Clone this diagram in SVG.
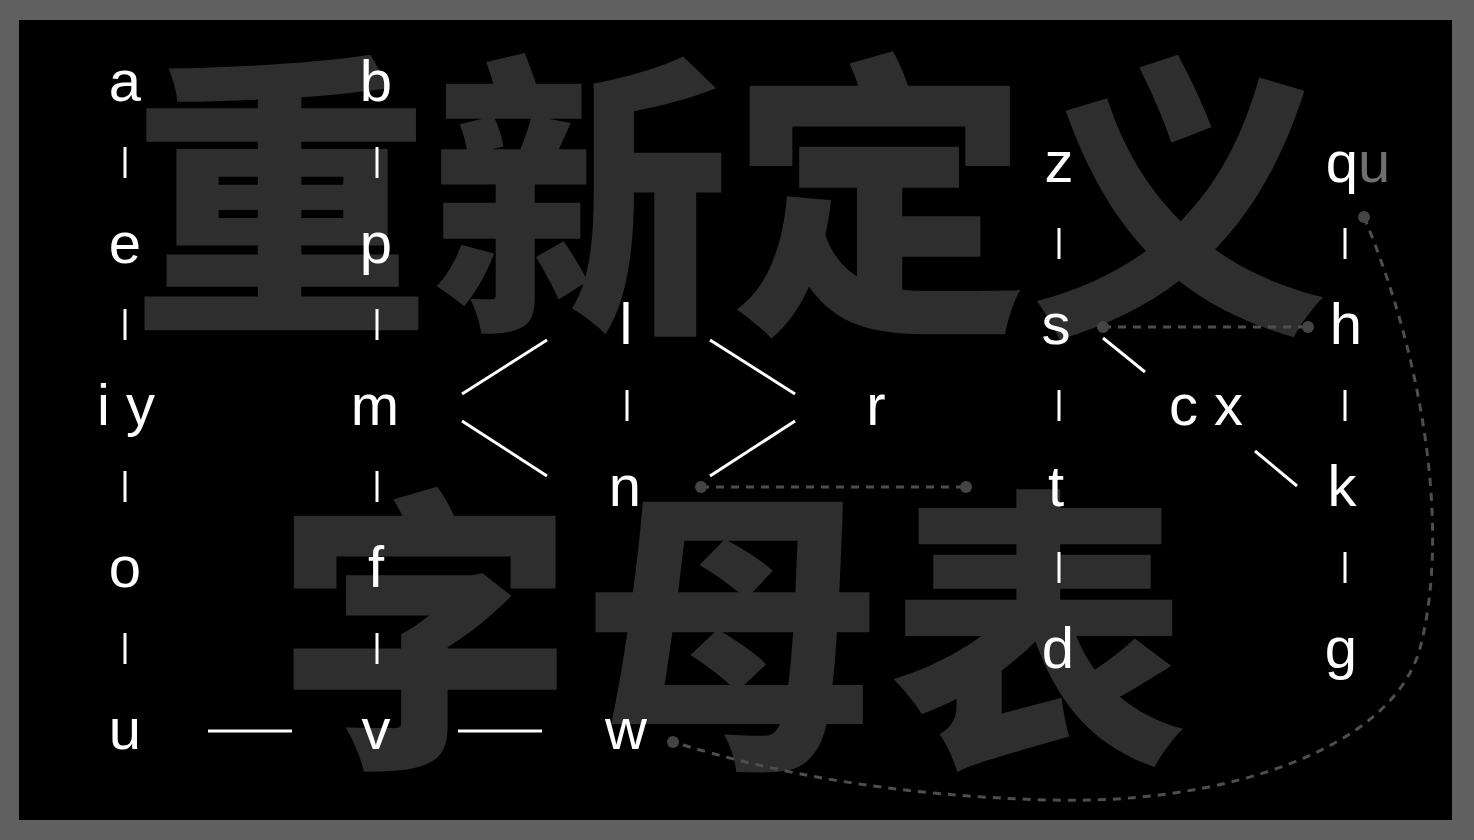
<svg xmlns="http://www.w3.org/2000/svg" width="1474" height="840" viewBox="0 0 1474 840">
<defs>
<style>
.bg{font-family:"Noto Sans CJK SC","Noto Sans CJK JP",sans-serif;font-weight:900;font-size:298px;fill:#2e2e2e}
.lt{font-family:"Liberation Sans",Arial,sans-serif;font-size:58px;fill:#ffffff;text-anchor:middle}
.ln{stroke:#ffffff;stroke-width:3;fill:none}
.ds{stroke:#4e4e4e;stroke-width:3;fill:none;stroke-dasharray:8 7}
.dot{fill:#444444}
</style>
</defs>
<rect x="0" y="0" width="1474" height="840" fill="#606060"/>
<rect x="19" y="20" width="1433" height="800" fill="#000000"/>
<g id="background-title">
<text class="bg" x="132" y="310" textLength="1196" lengthAdjust="spacing">重新定义</text>
<text class="bg" x="276" y="744" textLength="912" lengthAdjust="spacing">字母表</text>
</g>
<g id="connectors">
<g id="solid">
<line class="ln" x1="125" y1="147" x2="125" y2="178"/>
<line class="ln" x1="125" y1="309" x2="125" y2="340"/>
<line class="ln" x1="125" y1="471" x2="125" y2="502"/>
<line class="ln" x1="125" y1="633" x2="125" y2="664"/>
<line class="ln" x1="377" y1="147" x2="377" y2="178"/>
<line class="ln" x1="377" y1="309" x2="377" y2="340"/>
<line class="ln" x1="377" y1="471" x2="377" y2="502"/>
<line class="ln" x1="377" y1="633" x2="377" y2="664"/>
<line class="ln" x1="627" y1="390" x2="627" y2="421"/>
<line class="ln" x1="1059" y1="228" x2="1059" y2="259"/>
<line class="ln" x1="1059" y1="390" x2="1059" y2="421"/>
<line class="ln" x1="1059" y1="552" x2="1059" y2="583"/>
<line class="ln" x1="1345" y1="228" x2="1345" y2="259"/>
<line class="ln" x1="1345" y1="390" x2="1345" y2="421"/>
<line class="ln" x1="1345" y1="552" x2="1345" y2="583"/>
<line class="ln" x1="462" y1="394" x2="547" y2="340"/>
<line class="ln" x1="462" y1="421" x2="547" y2="476"/>
<line class="ln" x1="710" y1="340" x2="795" y2="394"/>
<line class="ln" x1="710" y1="476" x2="795" y2="421"/>
<line class="ln" x1="1103" y1="338" x2="1145" y2="372"/>
<line class="ln" x1="1255" y1="451" x2="1297" y2="486"/>
<line class="ln" x1="208" y1="731" x2="292" y2="731"/>
<line class="ln" x1="458" y1="731" x2="542" y2="731"/>
</g>
<g id="dashed">
<line class="ds" x1="1103" y1="327" x2="1308" y2="327"/>
<line class="ds" x1="701" y1="487" x2="966" y2="487"/>
<path class="ds" d="M1364 217 C1420 350 1450 520 1422 640 C1400 750 1220 805 1050 800 C900 796 780 775 673 742"/>
<circle class="dot" cx="1103" cy="327" r="6"/>
<circle class="dot" cx="1308" cy="327" r="6"/>
<circle class="dot" cx="701" cy="487" r="6"/>
<circle class="dot" cx="966" cy="487" r="6"/>
<circle class="dot" cx="1364" cy="217" r="6"/>
<circle class="dot" cx="673" cy="742" r="6"/>
</g>
</g>
<g id="node-a"><text class="lt" x="125" y="101">a</text></g>
<g id="node-b"><text class="lt" x="376" y="101">b</text></g>
<g id="node-z"><text class="lt" x="1059" y="182">z</text></g>
<g id="node-qu"><text class="lt" x="1358" y="182">q<tspan fill="#707070">u</tspan></text></g>
<g id="node-e"><text class="lt" x="125" y="263">e</text></g>
<g id="node-p"><text class="lt" x="376" y="263">p</text></g>
<g id="node-l"><text class="lt" x="626" y="344">l</text></g>
<g id="node-s"><text class="lt" x="1056" y="344">s</text></g>
<g id="node-h"><text class="lt" x="1346" y="344">h</text></g>
<g id="node-iy"><text class="lt" x="126" y="425">i y</text></g>
<g id="node-m"><text class="lt" x="375" y="425">m</text></g>
<g id="node-r"><text class="lt" x="876" y="425">r</text></g>
<g id="node-cx"><text class="lt" x="1206" y="425">c x</text></g>
<g id="node-n"><text class="lt" x="625" y="506">n</text></g>
<g id="node-t"><text class="lt" x="1056" y="506">t</text></g>
<g id="node-k"><text class="lt" x="1342" y="506">k</text></g>
<g id="node-o"><text class="lt" x="125" y="587">o</text></g>
<g id="node-f"><text class="lt" x="376" y="587">f</text></g>
<g id="node-d"><text class="lt" x="1058" y="668">d</text></g>
<g id="node-g"><text class="lt" x="1341" y="668">g</text></g>
<g id="node-u"><text class="lt" x="125" y="749">u</text></g>
<g id="node-v"><text class="lt" x="376" y="749">v</text></g>
<g id="node-w"><text class="lt" x="626" y="749">w</text></g>
</svg>
